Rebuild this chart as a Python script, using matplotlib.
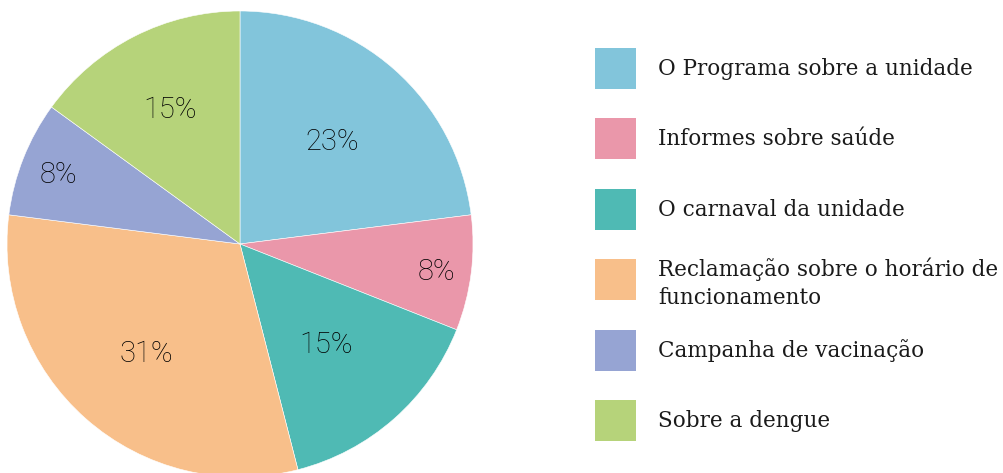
import numpy as np
import matplotlib.pyplot as plt
from matplotlib.patches import Rectangle

labels = ["O Programa sobre a unidade", "Informes sobre saúde", "O carnaval da unidade",
          "Reclamação sobre o horário de\nfuncionamento", "Campanha de vacinação", "Sobre a dengue"]
values = [23, 8, 15, 31, 8, 15]
colors = ["#82C5DB", "#EA97AA", "#4FBAB4", "#F8BF8A", "#96A4D3", "#B6D37A"]
# radial position of each percentage label (fraction of radius)
label_r = [0.6, 0.85, 0.56, 0.61, 0.84, 0.66]

fig = plt.figure(figsize=(10.04, 4.73), dpi=100)

# pie axes, placed in pixels: center (240, 244), radius 233
cx, cy, r = 240, 244, 233
ax = fig.add_axes([(cx - r) / 1004, (473 - cy - r) / 473, 2 * r / 1004, 2 * r / 473])
wedges, _ = ax.pie(values, colors=colors, startangle=90, counterclock=False, radius=1,
                   wedgeprops=dict(edgecolor="white", linewidth=0.4))
ax.set_xlim(-1, 1)
ax.set_ylim(-1, 1)
ax.set_aspect("equal")

for w, v, rr in zip(wedges, values, label_r):
    ang = np.deg2rad((w.theta1 + w.theta2) / 2)
    ax.text(rr * np.cos(ang), rr * np.sin(ang), f"{v}%", ha="center", va="center_baseline",
            fontsize=21, family="Roboto", fontweight="light", color="#000000")

# legend drawn by hand in pixel space
lax = fig.add_axes([0, 0, 1, 1])
lax.set_xlim(0, 1004)
lax.set_ylim(473, 0)
lax.axis("off")
step = 70.4
for i, (lab, c) in enumerate(zip(labels, colors)):
    y0 = 48 + i * step
    nl = lab.count("\n")
    lax.add_patch(Rectangle((595, y0), 41, 41, facecolor=c, edgecolor="none"))
    lax.text(658, y0 + 21 + 3 * nl, lab, ha="left", va="center", fontsize=15.5,
             family="DejaVu Serif", color="#1a1a1a", linespacing=1.35)

fig.savefig("out.png", dpi=100)
